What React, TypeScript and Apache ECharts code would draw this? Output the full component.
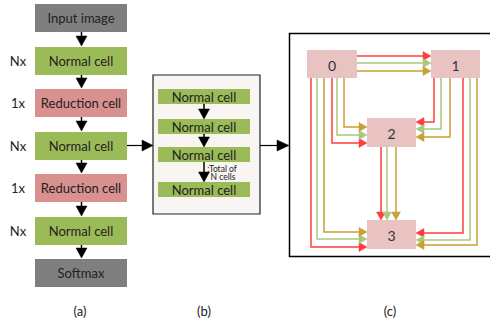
import React, { useEffect, useRef } from "react";
import * as echarts from "echarts";

const colCells = ["Input image", "Normal cell", "Reduction cell", "Normal cell", "Reduction cell", "Normal cell", "Softmax"];
const colKinds = ["io", "normal", "reduction", "normal", "reduction", "normal", "io"];
const repeatLabels = ["", "Nx", "1x", "Nx", "1x", "Nx", ""];
const innerCells = ["Normal cell", "Normal cell", "Normal cell", "Normal cell"];
const innerNote = [":Total of", "N cells"];
const nodeLabels = ["0", "1", "2", "3"];
const panelLabels = ["(a)", "(b)", "(c)"];
const edgeColors = ["#ff3d3d", "#a9c87f", "#c9a033"];

const FONT = "Lato, 'Open Sans', sans-serif";
const kindFill: Record<string, string> = { io: "#7f7f7f", normal: "#9bbb59", reduction: "#d9918f" };

function arrowHead(tipX: number, tipY: number, dir: string, len: number, half: number, fill: string) {
  let pts: number[][];
  if (dir === "down") pts = [[tipX - half, tipY - len], [tipX + half, tipY - len], [tipX, tipY]];
  else if (dir === "right") pts = [[tipX - len, tipY - half], [tipX - len, tipY + half], [tipX, tipY]];
  else pts = [[tipX + len, tipY - half], [tipX + len, tipY + half], [tipX, tipY]];
  return { type: "polygon", shape: { points: pts }, style: { fill, stroke: fill, lineWidth: 0.5 }, z: 5 };
}

function buildGraphics() {
  const g: any[] = [];
  // (a) column
  const colX = 35, colW = 92, colH = 28;
  const colTops = [4, 47, 89, 132, 174, 217, 259];
  colCells.forEach((name, i) => {
    const y = colTops[i];
    g.push({ type: "rect", shape: { x: colX, y, width: colW, height: colH }, style: { fill: kindFill[colKinds[i]] } });
    g.push({ type: "text", style: { text: name, x: colX + colW / 2, y: y + colH / 2, align: "center", verticalAlign: "middle", fontFamily: FONT, fontSize: 13, fill: "#222" }, z: 6 });
    if (repeatLabels[i]) {
      g.push({ type: "text", style: { text: repeatLabels[i], x: 18, y: y + colH / 2, align: "center", verticalAlign: "middle", fontFamily: FONT, fontSize: 13, fill: "#222" } });
    }
    if (i < colCells.length - 1) {
      const cx = colX + colW / 2 + 0.5;
      const top = colTops[i + 1];
      g.push({ type: "line", shape: { x1: cx, y1: y + colH, x2: cx, y2: top - 8 }, style: { stroke: "#000", lineWidth: 1.5 } });
      g.push(arrowHead(cx, top - 1, "down", 10, 5.5, "#000"));
    }
  });
  // arrow (a) -> (b)
  const midY = 145.5;
  g.push({ type: "line", shape: { x1: 127, y1: midY, x2: 144, y2: midY }, style: { stroke: "#000", lineWidth: 1.2 } });
  g.push(arrowHead(153, midY, "right", 11, 5.5, "#000"));

  // (b) panel
  g.push({ type: "rect", shape: { x: 153, y: 75, width: 107, height: 139 }, style: { fill: "#f9f5f2", stroke: "#222", lineWidth: 1.2 } });
  const innerTops = [89, 119, 147, 182];
  innerCells.forEach((name, i) => {
    const y = innerTops[i];
    g.push({ type: "rect", shape: { x: 158, y, width: 92, height: 15 }, style: { fill: "#9bbb59" } });
    g.push({ type: "text", style: { text: name, x: 204, y: y + 8, align: "center", verticalAlign: "middle", fontFamily: FONT, fontSize: 13, fill: "#222" }, z: 6 });
    if (i < innerCells.length - 1) {
      const next = innerTops[i + 1];
      g.push({ type: "line", shape: { x1: 204, y1: y + 15, x2: 204, y2: next - 8 }, style: { stroke: "#000", lineWidth: 1.5 } });
      g.push(arrowHead(204, next, "down", 10, 5.5, "#000"));
    }
  });
  g.push({ type: "text", style: { text: innerNote[0], x: 222, y: 168.5, align: "center", verticalAlign: "middle", fontFamily: FONT, fontSize: 8.5, fill: "#222" }, z: 7 });
  g.push({ type: "text", style: { text: innerNote[1], x: 223, y: 177, align: "center", verticalAlign: "middle", fontFamily: FONT, fontSize: 8.5, fill: "#222" }, z: 7 });

  // arrow (b) -> (c)
  g.push({ type: "line", shape: { x1: 260, y1: midY, x2: 278, y2: midY }, style: { stroke: "#000", lineWidth: 1.2 } });
  g.push(arrowHead(289, midY, "right", 12, 5.5, "#000"));

  // (c) panel
  g.push({ type: "polyline", shape: { points: [[495, 33.5], [289.5, 33.5], [289.5, 256.5], [495, 256.5]] }, style: { stroke: "#000", lineWidth: 1.5, fill: null } });

  const nodes = [
    { x: 307, y: 50, w: 50, h: 28 },
    { x: 431, y: 50, w: 49, h: 28 },
    { x: 367, y: 118, w: 49, h: 29 },
    { x: 367, y: 220, w: 49, h: 29 },
  ];
  nodes.forEach((n, i) => {
    g.push({ type: "rect", shape: { x: n.x, y: n.y, width: n.w, height: n.h }, style: { fill: "#e8c3c2" }, z: 2 });
    g.push({ type: "text", style: { text: nodeLabels[i], x: n.x + n.w / 2, y: n.y + n.h / 2 + 1, align: "center", verticalAlign: "middle", fontFamily: FONT, fontSize: 14, fill: "#333" }, z: 6 });
  });

  const edge = (pts: number[][], dir: string, color: string) => {
    const last = pts[pts.length - 1];
    const linePts = pts.map((p) => p.slice());
    const lp = linePts[linePts.length - 1];
    if (dir === "right") lp[0] -= 6;
    else if (dir === "left") lp[0] += 6;
    else lp[1] -= 6;
    g.push({ type: "polyline", shape: { points: linePts }, style: { stroke: color, lineWidth: 1.5, fill: null }, z: 3 });
    g.push(arrowHead(last[0], last[1], dir, 8, 4.5, color));
  };

  const n0 = nodes[0], n1 = nodes[1], n2 = nodes[2], n3 = nodes[3];
  // 0 -> 1
  [56, 63, 71].forEach((y, k) => edge([[n0.x + n0.w, y], [n1.x, y]], "right", edgeColors[k]));
  // 0 -> 2
  const x02 = [332, 337, 344], y02 = [143, 135, 127];
  x02.forEach((x, k) => edge([[x, n0.y + n0.h], [x, y02[k]], [n2.x, y02[k]]], "right", edgeColors[k]));
  // 0 -> 3
  const x03 = [311, 317, 324], y03 = [247, 239, 232];
  x03.forEach((x, k) => edge([[x, n0.y + n0.h], [x, y03[k]], [n3.x, y03[k]]], "right", edgeColors[k]));
  // 1 -> 2
  const x12 = [434, 441, 450], y12 = [122, 129, 137];
  x12.forEach((x, k) => edge([[x, n1.y + n1.h], [x, y12[k]], [n2.x + n2.w, y12[k]]], "left", edgeColors[k]));
  // 1 -> 3
  const x13 = [463, 470, 477], y13 = [233, 240, 245];
  x13.forEach((x, k) => edge([[x, n1.y + n1.h], [x, y13[k]], [n3.x + n3.w, y13[k]]], "left", edgeColors[k]));
  // 2 -> 3
  const x23 = [381, 387, 396];
  x23.forEach((x, k) => edge([[x, n2.y + n2.h], [x, n3.y]], "down", edgeColors[k]));

  // panel labels
  const labelX = [80, 204, 390];
  panelLabels.forEach((t, i) => {
    g.push({ type: "text", style: { text: t, x: labelX[i], y: 311, align: "center", verticalAlign: "middle", fontFamily: FONT, fontSize: 13, fill: "#222" } });
  });
  return g;
}

export default function App() {
  const ref = useRef<HTMLDivElement>(null);
  useEffect(() => {
    if (!ref.current) return;
    const chart = echarts.init(ref.current, undefined, { renderer: "svg" });
    chart.setOption({
      animation: false,
      backgroundColor: "#ffffff",
      graphic: { elements: buildGraphics() },
    });
    return () => chart.dispose();
  }, []);
  return <div ref={ref} style={{ position: "fixed", left: 0, top: 0, width: 490, height: 323 }} />;
}
